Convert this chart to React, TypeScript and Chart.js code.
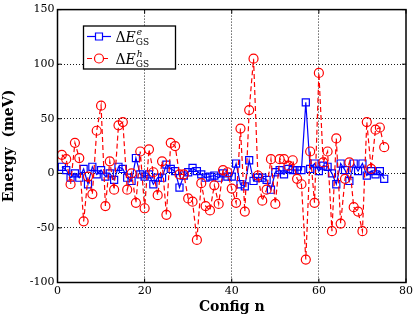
import React, { useEffect, useRef } from "react";
import { Chart, registerables } from "chart.js";

Chart.register(...registerables);

const configN = [
  1, 2, 3, 4, 5, 6, 7, 8, 9, 10, 11, 12, 13, 14, 15, 16, 17, 18, 19, 20,
  21, 22, 23, 24, 25, 26, 27, 28, 29, 30, 31, 32, 33, 34, 35, 36, 37, 38, 39, 40,
  41, 42, 43, 44, 45, 46, 47, 48, 49, 50, 51, 52, 53, 54, 55, 56, 57, 58, 59, 60,
  61, 62, 63, 64, 65, 66, 67, 68, 69, 70, 71, 72, 73, 74, 75,
];

const deltaEe = [
  6, 3, -4, 0, -4, 4, -10, 6, -1, 3, -3, 0, -6, 6, 4, -4, -7, 14, -1, -3,
  -1, -10, -4, -4, 8, 4, 2, -13, -2, 1, 5, 2, -1, -4, -3, -2, -4, 0, -3, -3,
  9, -10, -12, 12, -7, -4, -4, -6, -15, 1, 3, -1, 4, 3, 3, 3, 65, 4, 9, 2,
  7, 6, 0, -10, 9, 3, -7, 9, 2, 9, -2, 2, -1, 2, -5,
];

const deltaEh = [
  17, 13, -10, 28, 14, -44, -3, -19, 39, 62, -30, 11, -15, 44, 47, -15, 0, -27, 20, -32,
  22, 1, -20, 11, -38, 28, 25, -1, -1, -23, -26, -61, -9, -30, -34, -11, -28, 3, 1, -14,
  -27, 41, -35, 58, 105, -2, -25, -15, 13, -28, 13, 13, 7, 12, -5, -10, -79, 20, -27, 92,
  10, 20, -53, 32, -46, -5, 10, -31, -35, -53, 47, 4, 40, 42, 24,
];

const xTicks = [0, 20, 40, 60, 80];
const yTicks = [-100, -50, 0, 50, 100, 150];

const SERIF = '"DejaVu Serif", "Liberation Serif", serif';

const framePlugin = {
  id: "frame",
  afterDraw(chart: any) {
    const { ctx, chartArea: a } = chart;
    const xs = chart.scales.x;
    const ys = chart.scales.y;
    ctx.save();
    ctx.strokeStyle = "#000";
    ctx.lineWidth = 1;
    ctx.setLineDash([]);
    const seg = (x1: number, y1: number, x2: number, y2: number) => {
      ctx.beginPath();
      ctx.moveTo(x1, y1);
      ctx.lineTo(x2, y2);
      ctx.stroke();
    };
    for (const v of xTicks) {
      const px = xs.getPixelForValue(v);
      seg(px, a.bottom, px, a.bottom - 4);
      seg(px, a.top, px, a.top + 4);
    }
    for (const v of yTicks) {
      const py = ys.getPixelForValue(v);
      seg(a.left, py, a.left + 4, py);
      seg(a.right, py, a.right - 4, py);
    }
    ctx.lineWidth = 1.5;
    ctx.strokeRect(a.left, a.top, a.right - a.left, a.bottom - a.top);

    // legend
    const bx = 83.5, by = 26, bw = 92, bh = 43;
    ctx.fillStyle = "#fff";
    ctx.fillRect(bx, by, bw, bh);
    ctx.lineWidth = 1.3;
    ctx.strokeRect(bx, by, bw, bh);
    const rows = [
      { y: 36.5, color: "#0000ff", sup: "e", dash: [] as number[], marker: "rect" },
      { y: 58.5, color: "#ff0000", sup: "h", dash: [5, 3], marker: "circle" },
    ];
    for (const r of rows) {
      ctx.strokeStyle = r.color;
      ctx.lineWidth = 1.2;
      ctx.setLineDash(r.dash);
      seg(87, r.y, 111, r.y);
      ctx.setLineDash([]);
      ctx.beginPath();
      if (r.marker === "rect") {
        ctx.rect(95.5, r.y - 3.5, 7, 7);
      } else {
        ctx.arc(99, r.y, 4.5, 0, Math.PI * 2);
      }
      ctx.fillStyle = "#fff";
      ctx.fill();
      ctx.stroke();
      ctx.fillStyle = "#000";
      ctx.textBaseline = "alphabetic";
      ctx.textAlign = "left";
      const base = r.y + 5;
      let x = 115.5;
      ctx.font = `14px ${SERIF}`;
      ctx.fillText("\u0394", x, base);
      x += ctx.measureText("\u0394").width;
      ctx.font = `italic 14px ${SERIF}`;
      ctx.fillText("E", x, base);
      x += ctx.measureText("E").width;
      ctx.font = `italic 9px ${SERIF}`;
      ctx.fillText(r.sup, x + 1, base - 6.5);
      ctx.font = `9px ${SERIF}`;
      ctx.fillText("GS", x, base + 3);
    }
    ctx.restore();
  },
};

export default function App() {
  const ref = useRef<HTMLCanvasElement | null>(null);
  useEffect(() => {
    document.body.style.margin = "0";
    const canvas = ref.current!;
    const chart = new Chart(canvas, {
      type: "line",
      data: {
        datasets: [
          {
            label: "ΔE^e_GS",
            data: configN.map((n, i) => ({ x: n, y: deltaEe[i] })),
            borderColor: "#0000ff",
            borderWidth: 1.2,
            pointStyle: "rect",
            pointRadius: 5,
            pointBorderWidth: 1.2,
            pointBorderColor: "#0000ff",
            pointBackgroundColor: "rgba(0,0,0,0)",
            fill: false,
            tension: 0,
            order: 1,
          },
          {
            label: "ΔE^h_GS",
            data: configN.map((n, i) => ({ x: n, y: deltaEh[i] })),
            borderColor: "#ff0000",
            borderWidth: 1.2,
            borderDash: [5, 3],
            pointStyle: "circle",
            pointRadius: 4.5,
            pointBorderWidth: 1.2,
            pointBorderColor: "#ff0000",
            pointBackgroundColor: "rgba(0,0,0,0)",
            fill: false,
            tension: 0,
            order: 0,
          },
        ],
      },
      options: {
        responsive: false,
        animation: false,
        layout: { padding: { left: 0, top: 6, right: 9, bottom: 0 } },
        plugins: { legend: { display: false }, tooltip: { enabled: false } },
        scales: {
          x: {
            type: "linear",
            min: 0,
            max: 80,
            afterFit: (s: any) => {
              s.height = 36.5;
            },
            afterBuildTicks: (s: any) => {
              s.ticks = xTicks.map((v) => ({ value: v }));
            },
            ticks: {
              color: "#000",
              font: { family: SERIF, size: 11 },
              padding: 2,
            },
            grid: {
              drawTicks: false,
              color: (c: any) =>
                c.tick && (c.tick.value === 0 || c.tick.value === 80) ? "rgba(0,0,0,0)" : "#000",
              lineWidth: 0.9,
            },
            border: { display: false, dash: [1, 2] },
            title: {
              display: true,
              text: "Config n",
              color: "#000",
              font: { family: SERIF, size: 14, weight: "bold" },
              padding: { top: 0, bottom: 3 },
            },
          },
          y: {
            type: "linear",
            min: -100,
            max: 150,
            afterFit: (s: any) => {
              s.width = 57.5;
            },
            afterBuildTicks: (s: any) => {
              s.ticks = yTicks.map((v) => ({ value: v }));
            },
            ticks: {
              color: "#000",
              font: { family: SERIF, size: 11 },
              padding: 3,
            },
            grid: {
              drawTicks: false,
              color: (c: any) =>
                c.tick && (c.tick.value === -100 || c.tick.value === 150) ? "rgba(0,0,0,0)" : "#000",
              lineWidth: 0.9,
            },
            border: { display: false, dash: [1, 2] },
            title: {
              display: true,
              text: "Energy  (meV)",
              color: "#000",
              font: { family: SERIF, size: 14, weight: "bold" },
              padding: { top: 1, bottom: 0 },
            },
          },
        },
      },
      plugins: [framePlugin],
    });
    return () => chart.destroy();
  }, []);
  return <canvas ref={ref} width={415} height={319} style={{ display: "block" }} />;
}
